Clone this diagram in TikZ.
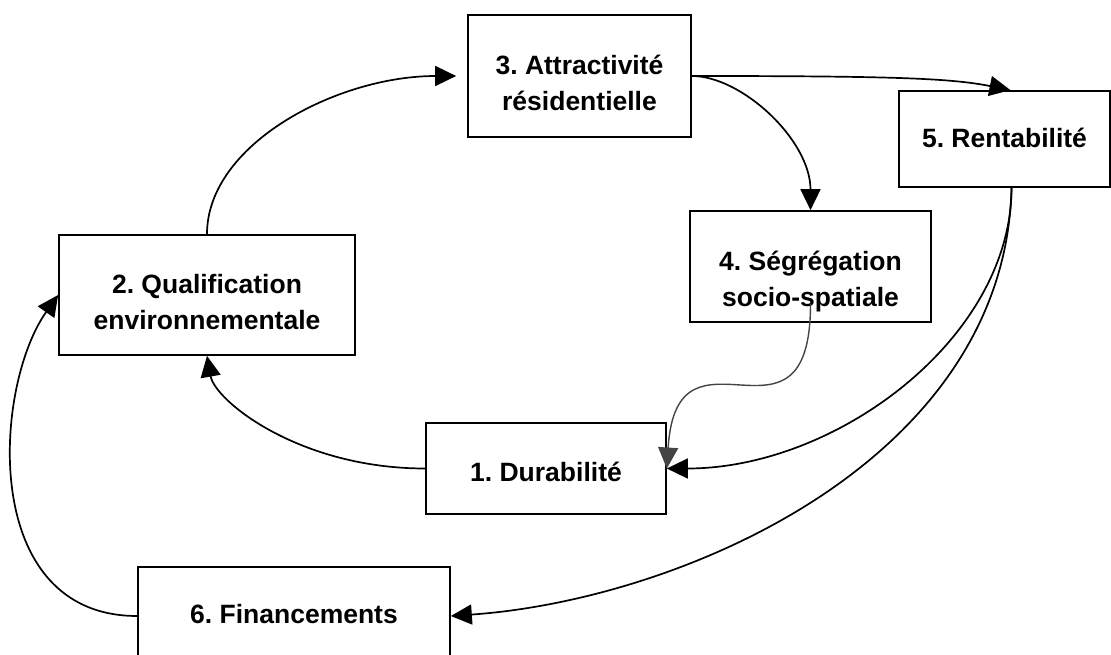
\documentclass[tikz,border=0pt]{standalone}
\usepackage{fontspec}
\setmainfont{Liberation Sans}
\usetikzlibrary{arrows.meta}
\definecolor{linkgrey}{HTML}{444444}
\newcommand\boxtext[2]{\raisebox{-#1}[0pt][0pt]{\begin{tabular}[t]{@{}c@{}}#2\end{tabular}}}
\frenchspacing
\begin{document}
\begin{tikzpicture}[x=1pt,y=-1pt,
  box/.style={draw=black, line width=1.7pt, fill=white, align=center,
    font=\bfseries\fontsize{26.5}{36}\selectfont, inner sep=0pt},
  link/.style={line width=1.7pt, -{Triangle[length=21pt,width=20pt]}},
]
\useasboundingbox (0,0) rectangle (1111,655);
\node[box, minimum width=240pt, minimum height=91pt]  (b1) at (546,468.5) {\boxtext{12.5pt}{1. Durabilité}};
\node[box, minimum width=296pt, minimum height=120pt] (b2) at (207,295) {\boxtext{-2pt}{2. Qualification\\environnementale}};
\node[box, minimum width=223pt, minimum height=122pt] (b3) at (579.5,76) {\boxtext{-1pt}{3. Attractivité\\résidentielle}};
\node[box, minimum width=241pt, minimum height=111pt] (b4) at (810.5,266.5) {\boxtext{3.5pt}{4. Ségrégation\\socio-spatiale}};
\node[box, minimum width=211pt, minimum height=96pt]  (b5) at (1004.5,139) {\boxtext{9pt}{5. Rentabilité}};
\node[box, minimum width=312pt, minimum height=98pt]  (b6) at (294,616) {\boxtext{7pt}{6. Financements}};

\draw[link, shorten >=11pt] (b2.north) .. controls +(0,-90) and +(-130,0) .. (b3.west);
\draw[link] (b3.east) .. controls +(200,0) and +(-60,-12) .. ([xshift=6pt]b5.north);
\draw[link] (b3.east) .. controls +(50,0) and +(0,-70) .. (b4.north);
\draw[link, color=linkgrey, line width=1.4pt] ([yshift=19pt]b4.south) .. controls +(0,164) and +(10,-160) .. (b1.east);
\draw[link] ([xshift=7pt]b5.south) .. controls +(0,150) and +(170,0) .. (b1.east);
\draw[link] ([xshift=7pt]b5.south) .. controls +(-6,273) and +(230,-16) .. (b6.east);
\draw[link] (b1.west) .. controls +(-126,0) and +(8,45) .. (b2.south);
\draw[link] (b6.west) .. controls +(-158,0) and +(-65,92) .. (b2.west);
\end{tikzpicture}
\end{document}
